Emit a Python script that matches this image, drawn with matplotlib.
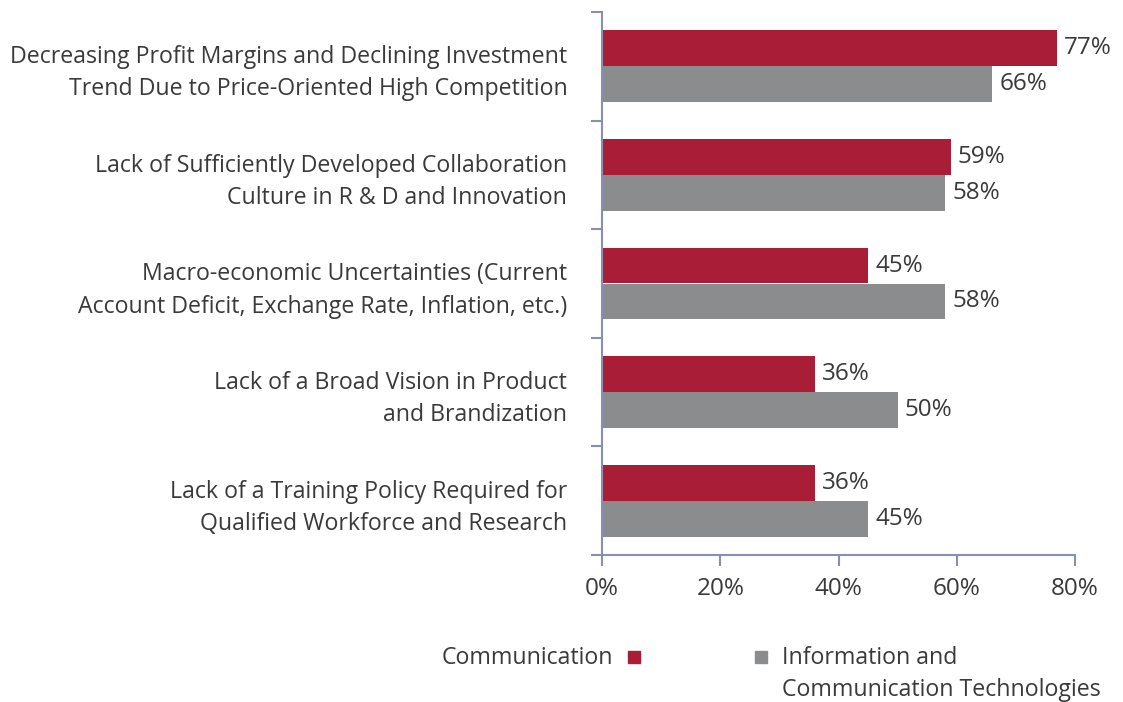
import numpy as np
import matplotlib
matplotlib.use("Agg")
from matplotlib import pyplot as plt
from matplotlib.patches import Rectangle

plt.rcParams['font.family'] = ['Open Sans', 'DejaVu Sans']

categories = [
    "Decreasing Profit Margins and Declining Investment\nTrend Due to Price-Oriented High Competition",
    "Lack of Sufficiently Developed Collaboration\nCulture in R & D and Innovation",
    "Macro-economic Uncertainties (Current\nAccount Deficit, Exchange Rate, Inflation, etc.)",
    "Lack of a Broad Vision in Product\nand Brandization",
    "Lack of a Training Policy Required for\nQualified Workforce and Research",
]
communication = [77, 59, 45, 36, 36]
ict = [66, 58, 58, 50, 45]
x_ticks = [0, 20, 40, 60, 80]

red = "#A91E36"
gray = "#8B8C8E"
axis_color = "#8A8FAF"
text_color = "#3a3a3a"
label_size = 16.7
num_size = 17.5


def main():
    fig = plt.figure(figsize=(11.23, 7.02), dpi=100)
    ax = fig.add_axes([602 / 1123, 1 - 555 / 702, 473 / 1123, 543 / 702])

    y = np.arange(len(categories))
    h = 0.33
    ax.barh(y - h / 2, communication, height=h, color=red)
    ax.barh(y + h / 2, ict, height=h, color=gray)

    for i in range(len(categories)):
        ax.text(communication[i] + 1.2, y[i] - h / 2, str(communication[i]) + "%",
                va='center', ha='left', fontsize=num_size, color=text_color)
        ax.text(ict[i] + 1.2, y[i] + h / 2, str(ict[i]) + "%",
                va='center', ha='left', fontsize=num_size, color=text_color)

    ax.set_xlim(0, 80)
    ax.set_ylim(len(categories) - 0.5, -0.5)

    ax.set_yticks(y)
    ax.set_yticklabels(categories, fontsize=label_size, color=text_color, linespacing=1.45)
    ax.set_yticks(np.arange(-0.5, len(categories)), minor=True)
    ax.tick_params(axis='y', which='major', length=0, pad=25)
    ax.tick_params(axis='y', which='minor', length=8, width=1.5, color=axis_color)

    ax.set_xticks(x_ticks)
    ax.set_xticklabels([str(t) + "%" for t in x_ticks], fontsize=num_size, color=text_color)
    ax.tick_params(axis='x', length=8, width=1.5, color=axis_color, pad=8)

    for s in ['top', 'right']:
        ax.spines[s].set_visible(False)
    for s in ['left', 'bottom']:
        ax.spines[s].set_color(axis_color)
        ax.spines[s].set_linewidth(1.5)

    # legend
    fig.text(613 / 1123, 1 - 658 / 702, "Communication", ha='right', va='center',
             fontsize=label_size, color=text_color)
    fig.patches.append(Rectangle((628 / 1123, 1 - 663 / 702), 12 / 1123, 12 / 702,
                                 transform=fig.transFigure, color=red, figure=fig))
    fig.patches.append(Rectangle((755 / 1123, 1 - 663 / 702), 12 / 1123, 12 / 702,
                                 transform=fig.transFigure, color=gray, figure=fig))
    fig.text(782 / 1123, 1 - 658 / 702, "Information and", ha='left', va='center',
             fontsize=label_size, color=text_color)
    fig.text(782 / 1123, 1 - 690 / 702, "Communication Technologies", ha='left', va='center',
             fontsize=label_size, color=text_color)

    fig.savefig("out.png", dpi=100)


if __name__ == "__main__":
    main()
